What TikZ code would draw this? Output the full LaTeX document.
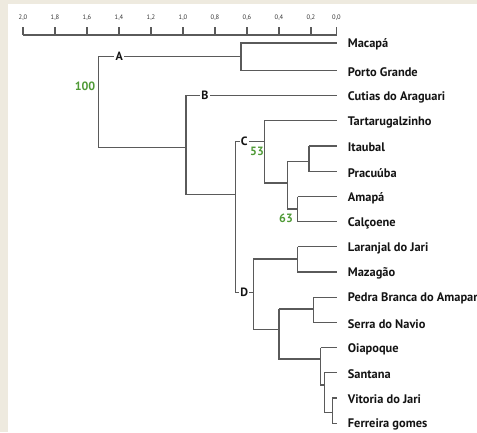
\documentclass[tikz,border=0pt]{standalone}
\usepackage{fontspec}
\setmainfont{PT Sans}
\definecolor{bgbeige}{HTML}{EEEADF}
\definecolor{treegray}{HTML}{5A5A5A}
\definecolor{bootgreen}{HTML}{4F9A36}
\tikzset{
  branch/.style={draw=treegray, line width=1.1pt},
  leaf/.style={anchor=west, inner sep=0pt, font=\bfseries\fontsize{12.4}{14}\selectfont, text=black!92},
  clade/.style={fill=white, inner sep=1.2pt, font=\bfseries\fontsize{12}{14}\selectfont, text=black!92},
  boot/.style={inner sep=0pt, font=\bfseries\fontsize{12}{14}\selectfont, text=bootgreen},
  tick/.style={inner sep=0pt, font=\fontsize{6.5}{7}\selectfont, text=black!80}
}
\begin{document}
\begin{tikzpicture}[x=1pt,y=-1pt]
\useasboundingbox (0,0) rectangle (477,432);
\fill[bgbeige] (0,0) rectangle (477,432);
\fill[white] (8,4) rectangle (477,432);
\clip (0,0) rectangle (477,432);

% scale axis
\coordinate (ax0) at (23,35);
\coordinate (ax1) at (336.5,35);
\draw[branch] (ax0) -- (ax1);
\foreach \xx/\lab [count=\i] in {23/{2,0},55/{1,8},87/{1,6},119/{1,4},151/{1,2},183/{1,0},215/{0,8},247/{0,6},279/{0,4},311/{0,2},336.5/{0,0}}{
  \coordinate (tk\i) at (\xx,27);
  \draw[branch] (tk\i) -- (\xx,35);
  \node[tick] (tl\i) at (\xx,17.5) {\lab};
}

% leaves: tips and labels
\foreach \name/\yy/\txt in {
  l0/43/{Macapá},
  l1/70.5/{Porto Grande},
  l2/95.6/{Cutias do Araguari},
  l3/120.8/{Tartarugalzinho},
  l4/146/{Itaubal},
  l5/171.4/{Pracuúba},
  l6/196.6/{Amapá},
  l7/221.8/{Calçoene},
  l8/246.8/{Laranjal do Jari},
  l9/272/{Mazagão},
  l10/297.2/{Pedra Branca do Amapari},
  l11/322.4/{Serra do Navio},
  l12/347.6/{Oiapoque},
  l13/372.8/{Santana},
  l14/398/{Vitoria do Jari},
  l15/423.2/{Ferreira gomes}}{
  \coordinate (\name) at (336.5,\yy);
  \node[leaf] (\name t) at (347.7,\yy+1.5) {\txt};
}

% internal nodes (x = height, y = joining point)
\coordinate (root) at (98.7,100);
\coordinate (nMP) at (241,56.5);
\coordinate (nBD) at (186,147.3);
\coordinate (nCD) at (235.3,194.7);
\coordinate (nC) at (264.3,141.7);
\coordinate (nIPAC) at (287.7,183);
\coordinate (nIP) at (309,161.3);
\coordinate (nAC) at (297.7,209);
\coordinate (nD) at (253.3,292.3);
\coordinate (nLM) at (297.7,259);
\coordinate (nPO) at (279,329.7);
\coordinate (nPS) at (313.3,309);
\coordinate (nOS) at (320.7,359);
\coordinate (nSV) at (324.3,385);
\coordinate (nVF) at (332.3,412.7);

% branches
\draw[branch] (root) |- (nMP);
\draw[branch] (root) |- (nBD);
\draw[branch] (nMP) |- (l0);
\draw[branch] (nMP) |- (l1);
\draw[branch] (nBD) |- (l2);
\draw[branch] (nBD) |- (nCD);
\draw[branch] (nCD) |- (nC);
\draw[branch] (nCD) |- (nD);
\draw[branch] (nC |- l3) |- (l3);
\draw[branch] (nC |- l3) |- (nIPAC);
\draw[branch] (nIPAC |- nIP) |- (nIP);
\draw[branch] (nIPAC |- nIP) |- (nAC);
\draw[branch] (nIP |- l4) |- (l4);
\draw[branch] (nIP |- l4) |- (l5);
\draw[branch] (nAC |- l6) |- (l6);
\draw[branch] (nAC |- l6) |- (l7);
\draw[branch] (nD |- nLM) |- (nLM);
\draw[branch] (nD |- nLM) |- (nPO);
\draw[branch] (nLM |- l8) |- (l8);
\draw[branch] (nLM |- l8) |- (l9);
\draw[branch] (nPO |- nPS) |- (nPS);
\draw[branch] (nPO |- nPS) |- (nOS);
\draw[branch] (nPS |- l10) |- (l10);
\draw[branch] (nPS |- l10) |- (l11);
\draw[branch] (nOS |- l12) |- (l12);
\draw[branch] (nOS |- l12) |- (nSV);
\draw[branch] (nSV |- l13) |- (l13);
\draw[branch] (nSV |- l13) |- (nVF);
\draw[branch] (nVF |- l14) |- (l14);
\draw[branch] (nVF |- l14) |- (l15);

% clade labels
\node[clade] (cA) at (119.3,56.5) {A};
\node[clade] (cB) at (205,95.6) {B};
\node[clade] (cC) at (244.3,141.7) {C};
\node[clade] (cD) at (244.3,292.3) {D};

% bootstrap values
\node[boot] (b100) at (85,86) {100};
\node[boot] (b53) at (257,151) {53};
\node[boot] (b63) at (286,218.5) {63};
\end{tikzpicture}
\end{document}
